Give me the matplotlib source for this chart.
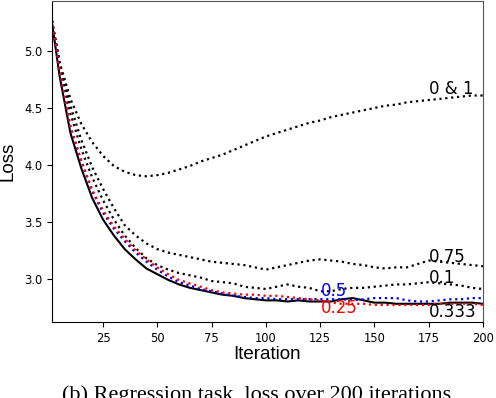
import matplotlib
matplotlib.use("Agg")
import matplotlib.pyplot as plt

iterations = [1, 5, 10, 15, 20, 25, 30, 35, 40, 45, 50, 55, 60, 65, 70, 75, 80, 85, 90, 95, 100,
              105, 110, 115, 120, 125, 130, 135, 140, 145, 150, 155, 160, 165, 170, 175, 180,
              185, 190, 195, 200]

loss_0_and_1 = [5.32, 4.90, 4.58, 4.36, 4.20, 4.08, 3.99, 3.94, 3.91, 3.90, 3.91, 3.93, 3.96,
                3.99, 4.03, 4.06, 4.09, 4.13, 4.17, 4.21, 4.25, 4.28, 4.31, 4.34, 4.37, 4.39,
                4.42, 4.44, 4.46, 4.48, 4.50, 4.52, 4.53, 4.55, 4.56, 4.57, 4.58, 4.59, 4.60,
                4.61, 4.61]

loss_075 = [5.32, 4.90, 4.52, 4.22, 3.98, 3.79, 3.62, 3.47, 3.38, 3.31, 3.26, 3.23, 3.21, 3.19,
            3.17, 3.15, 3.14, 3.13, 3.12, 3.10, 3.08, 3.10, 3.12, 3.14, 3.16, 3.17, 3.16, 3.15,
            3.13, 3.12, 3.10, 3.09, 3.10, 3.10, 3.13, 3.16, 3.15, 3.14, 3.13, 3.12, 3.11]

loss_01 = [5.32, 4.87, 4.45, 4.14, 3.89, 3.69, 3.52, 3.38, 3.27, 3.18, 3.12, 3.08, 3.05, 3.03,
           3.01, 2.98, 2.97, 2.96, 2.93, 2.92, 2.91, 2.93, 2.95, 2.93, 2.92, 2.89, 2.89, 2.91,
           2.92, 2.92, 2.93, 2.94, 2.95, 2.95, 2.96, 2.97, 2.96, 2.95, 2.94, 2.92, 2.91]

loss_0333 = [5.32, 4.78, 4.28, 3.97, 3.71, 3.52, 3.38, 3.26, 3.17, 3.09, 3.04, 2.99, 2.95, 2.92,
             2.90, 2.88, 2.86, 2.85, 2.83, 2.82, 2.81, 2.81, 2.80, 2.81, 2.80, 2.80, 2.80, 2.82,
             2.83, 2.81, 2.79, 2.79, 2.78, 2.78, 2.78, 2.78, 2.78, 2.79, 2.79, 2.79, 2.78]

loss_05 = [5.32, 4.82, 4.33, 4.03, 3.77, 3.58, 3.44, 3.33, 3.23, 3.15, 3.08, 3.02, 2.97, 2.94,
           2.91, 2.89, 2.87, 2.85, 2.84, 2.83, 2.83, 2.82, 2.82, 2.82, 2.82, 2.82, 2.82, 2.82,
           2.81, 2.82, 2.83, 2.83, 2.83, 2.81, 2.80, 2.80, 2.81, 2.82, 2.82, 2.83, 2.83]

loss_025 = [5.32, 4.83, 4.34, 4.04, 3.78, 3.60, 3.46, 3.35, 3.25, 3.17, 3.10, 3.04, 2.99, 2.96,
            2.93, 2.90, 2.88, 2.87, 2.86, 2.86, 2.85, 2.85, 2.84, 2.83, 2.82, 2.81, 2.79, 2.78,
            2.78, 2.78, 2.77, 2.77, 2.77, 2.77, 2.77, 2.77, 2.78, 2.78, 2.78, 2.78, 2.77]

x_ticks = [25, 50, 75, 100, 125, 150, 175, 200]
y_ticks = [3.0, 3.5, 4.0, 4.5, 5.0]

fig = plt.figure(figsize=(4.96, 3.98), dpi=100)
ax = fig.add_axes([52 / 496, 76 / 398, (483 - 52) / 496, (397 - 76) / 398])

ax.plot(iterations, loss_0_and_1, color="black", ls=":", lw=1.6)
ax.plot(iterations, loss_075, color="black", ls=":", lw=1.6)
ax.plot(iterations, loss_01, color="black", ls=":", lw=1.6)
ax.plot(iterations, loss_0333, color="black", ls="-", lw=1.5)
ax.plot(iterations, loss_05, color="blue", ls=":", lw=1.6)
ax.plot(iterations, loss_025, color="red", ls=":", lw=1.6)

ax.set_xlim(1.5, 200)
ax.set_ylim(2.62, 5.44)
ax.set_xticks(x_ticks)
ax.set_yticks(y_ticks)
ax.tick_params(labelsize=8.3, length=3.5, width=0.8)
for side in ("top", "right"):
    ax.spines[side].set_color("#555555")

lab_font = dict(family=["Liberation Sans", "DejaVu Sans"], size=13.5)
ax.set_xlabel("Iteration", **lab_font, labelpad=1)
ax.set_ylabel("Loss", **lab_font, labelpad=5)

ann = dict(fontsize=12, va="center", ha="left")
ax.text(175, 4.67, "0 & 1", color="black", **ann)
ax.text(175, 3.19, "0.75", color="black", **ann)
ax.text(175, 3.01, "0.1", color="black", **ann)
ax.text(175, 2.71, "0.333", color="black", **ann)
ax.text(125.5, 2.89, "0.5", color="blue", **ann)
ax.text(125.5, 2.74, "0.25", color="red", **ann)

fig.text(0.517, -0.004, "(b) Regression task, loss over 200 iterations",
         family=["Liberation Serif", "DejaVu Serif"], fontsize=16, ha="center", va="baseline")

fig.savefig("out.png", dpi=100)
